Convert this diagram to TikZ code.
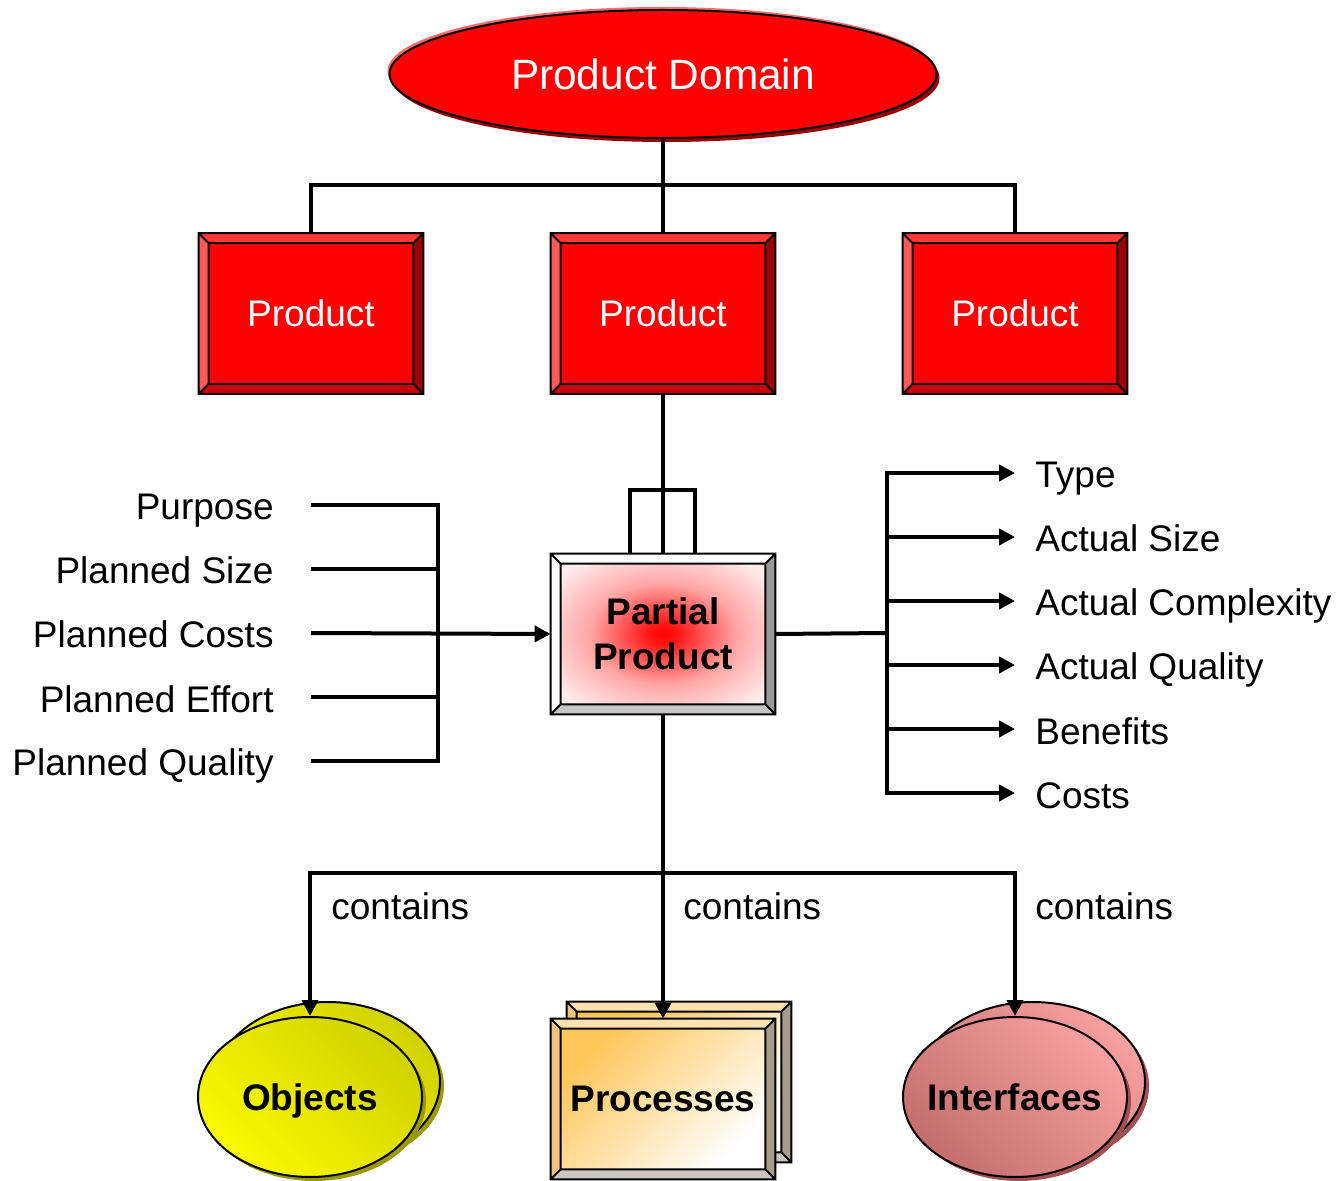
\documentclass[tikz,border=0pt]{standalone}
\usepackage{fontspec}
\setmainfont{Liberation Sans}
\usetikzlibrary{shapes.geometric,arrows.meta,calc,shadows}
\pgfdeclarelayer{bottom}
\pgfdeclarelayer{background}
\pgfsetlayers{bottom,background,main}
\definecolor{pdhi}{HTML}{FF6A6A}
\definecolor{pdshadow}{HTML}{990000}
\definecolor{prtop}{HTML}{FF3838}
\definecolor{prleft}{HTML}{FF5A5A}
\definecolor{prright}{HTML}{990000}
\definecolor{prbot}{HTML}{CC0000}
\definecolor{pcface}{HTML}{FFC65A}
\definecolor{pctop}{HTML}{FFE2B0}
\definecolor{pcleft}{HTML}{F2C27A}
\definecolor{pcright}{HTML}{A89C8C}
\definecolor{pcbot}{HTML}{CCC6BC}
\definecolor{objdark}{HTML}{D2D200}
\definecolor{objlight}{HTML}{FAFA00}
\definecolor{objshadow}{HTML}{9A9A00}
\definecolor{itfdark}{HTML}{C46E6E}
\definecolor{itflight}{HTML}{F8A0A0}
\definecolor{itfshadow}{HTML}{A05050}
\pgfdeclareradialshading{ppshade}{\pgfpoint{0bp}{0bp}}{color(0bp)=(red); color(4bp)=(red!90!white); color(18bp)=(red!35!white); color(32bp)=(red!8!white); color(50bp)=(white)}
\newcommand\bevelbox[6]{%
  \begin{pgfonlayer}{background}
  \coordinate (o1) at (#1.north west);
  \coordinate (o2) at (#1.north east);
  \coordinate (o3) at (#1.south east);
  \coordinate (o4) at (#1.south west);
  \coordinate (i1) at ($(o1)+(5pt,-5pt)$);
  \coordinate (i2) at ($(o2)+(-5pt,-5pt)$);
  \coordinate (i3) at ($(o3)+(-5pt,5pt)$);
  \coordinate (i4) at ($(o4)+(5pt,5pt)$);
  \fill[#2] (o1)--(o2)--(i2)--(i1)--cycle;
  \fill[#3] (o1)--(i1)--(i4)--(o4)--cycle;
  \fill[#4] (o2)--(o3)--(i3)--(i2)--cycle;
  \fill[#5] (o4)--(i4)--(i3)--(o3)--cycle;
  \path[#6] (i1) rectangle (i3);
  \draw[line width=1pt] (o1) rectangle (o3) (i1) rectangle (i3)
    (o1)--(i1) (o2)--(i2) (o3)--(i3) (o4)--(i4);
  \end{pgfonlayer}}
\begin{document}
\begin{tikzpicture}[x=0.5pt,y=-0.5pt,
  font=\fontsize{18.5}{22}\selectfont,
  ln/.style={line width=2pt},
  arr/.style={line width=2pt,-{Triangle[length=8pt,width=8pt]}},
  boxn/.style={inner sep=0pt,minimum width=112pt,minimum height=80pt},
  lbl/.style={inner sep=0pt,text height=19pt,text depth=4pt},
  bold/.style={font=\bfseries\fontsize{18.5}{22.5}\selectfont},
  oval/.style={ellipse,draw=black,line width=1pt,inner sep=0pt,minimum width=112pt,minimum height=80pt,
     text height=13pt,text depth=0pt},
  objstyle/.style={oval,top color=objdark,bottom color=objlight,shading angle=-45,
     drop shadow={shadow xshift=2pt,shadow yshift=-2pt,fill=objshadow,opacity=1}},
  itfstyle/.style={oval,top color=itflight,bottom color=itfdark,shading angle=-45,
     drop shadow={shadow xshift=2pt,shadow yshift=-2pt,fill=itfshadow,opacity=1}}]
\begin{pgfonlayer}{bottom}
\fill[white] (0,0) rectangle (1339,1181);
\end{pgfonlayer}
\useasboundingbox (0,0) rectangle (1339,1181);

% top ellipse
\node[ellipse,draw=black,line width=1pt,fill=red,minimum width=273.5pt,minimum height=64pt,
  inner sep=0pt,text=white,font=\fontsize{21.2}{25}\selectfont,
  general shadow={shadow xshift=-1pt,shadow yshift=1.5pt,fill=pdhi,opacity=1},
  drop shadow={shadow xshift=1.5pt,shadow yshift=-2pt,fill=pdshadow,opacity=1}] (pd) at (663,74) {Product Domain};

% product boxes
\node[boxn,text=white] (p1) at (311,313.5) {Product};
\bevelbox{p1}{fill=prtop}{fill=prleft}{fill=prright}{fill=prbot}{fill=red}
\node[boxn,text=white] (p2) at (663,313.5) {Product};
\bevelbox{p2}{fill=prtop}{fill=prleft}{fill=prright}{fill=prbot}{fill=red}
\node[boxn,text=white] (p3) at (1015,313.5) {Product};
\bevelbox{p3}{fill=prtop}{fill=prleft}{fill=prright}{fill=prbot}{fill=red}

% partial product
\node[boxn,bold,align=center] (pp) at (663,634) {Partial\\Product};
\bevelbox{pp}{fill=white}{fill=white}{fill=gray!80}{fill=gray!45}{shade,shading=ppshade}

% bottom shapes
\node[objstyle] (objb) at (328,1082) {};
\node[objstyle,bold] (obj) at (310,1097) {\makebox[0pt]{Objects}};
\node[boxn] (procb) at (679,1082) {};
\bevelbox{procb}{fill=pctop}{fill=pcleft}{fill=pcright}{fill=pcbot}{top color=pcface,bottom color=white,shading angle=45}
\node[boxn,bold] (proc) at (663,1099) {Processes};
\bevelbox{proc}{fill=pctop}{fill=pcleft}{fill=pcright}{fill=pcbot}{top color=pcface,bottom color=white,shading angle=45}
\node[itfstyle] (itfb) at (1033,1082) {};
\node[itfstyle,bold] (itf) at (1015,1097) {\makebox[0pt]{Interfaces}};

% helper coordinates
\coordinate (bar) at (663,185);
\coordinate (hb) at (663,873);
\coordinate (lb) at (438,633);
\coordinate (rb) at (887,633);
\coordinate (lpl) at (630,490);
\coordinate (lpr) at (695,490);

% left labels
\node[lbl,anchor=east] (l1) at (274,505) {Purpose};
\node[lbl,anchor=east] (l2) at (274,569) {Planned Size};
\node[lbl,anchor=east] (l3) at (274,633) {Planned Costs};
\node[lbl,anchor=east] (l4) at (274,697) {Planned Effort};
\node[lbl,anchor=east] (l5) at (274,761) {Planned Quality};

% right labels
\node[lbl,anchor=west] (r1) at (1035,473) {Type};
\node[lbl,anchor=west] (r2) at (1035,537) {Actual Size};
\node[lbl,anchor=west] (r3) at (1035,601) {Actual Complexity};
\node[lbl,anchor=west] (r4) at (1035,665) {Actual Quality};
\node[lbl,anchor=west] (r5) at (1035,729) {Benefits};
\node[lbl,anchor=west] (r6) at (1035,793) {Costs};

% contains labels
\node[anchor=base west,inner sep=0pt] (c1) at (331,919) {contains};
\node[anchor=base west,inner sep=0pt] (c2) at (683,919) {contains};
\node[anchor=base west,inner sep=0pt] (c3) at (1035,919) {contains};

% connectors top
\draw[ln] (pd.south) -- (p2.north);
\draw[ln] (p1.north) |- (bar) -| (p3.north);
\draw[ln] (p2.south) -- (pp.north);
\draw[ln] (lpl |- pp.north) -- (lpl) -- (lpr) -- (lpr |- pp.north);

% left connectors
\foreach \i in {1,2,4,5} \draw[ln] ([xshift=18.5pt]l\i.east) -- (lb |- l\i.east);
\draw[arr] ([xshift=18.5pt]l3.east) -- (pp.west);
\draw[ln,line cap=rect] (lb |- l1.east) -- (lb |- l5.east);

% right connectors
\draw[ln] (pp.east) -- (rb);
\draw[ln,line cap=rect] (rb |- r1.west) -- (rb |- r6.west);
\foreach \i in {1,...,6} \draw[arr] (rb |- r\i.west) -- ([xshift=-10pt]r\i.west);

% bottom connectors
\draw[ln] (pp.south) -- (hb);
\draw[arr] (hb) -| (obj.north);
\draw[arr] (hb) -- (proc.north);
\draw[arr] (hb) -| (itf.north);
\end{tikzpicture}
\end{document}
